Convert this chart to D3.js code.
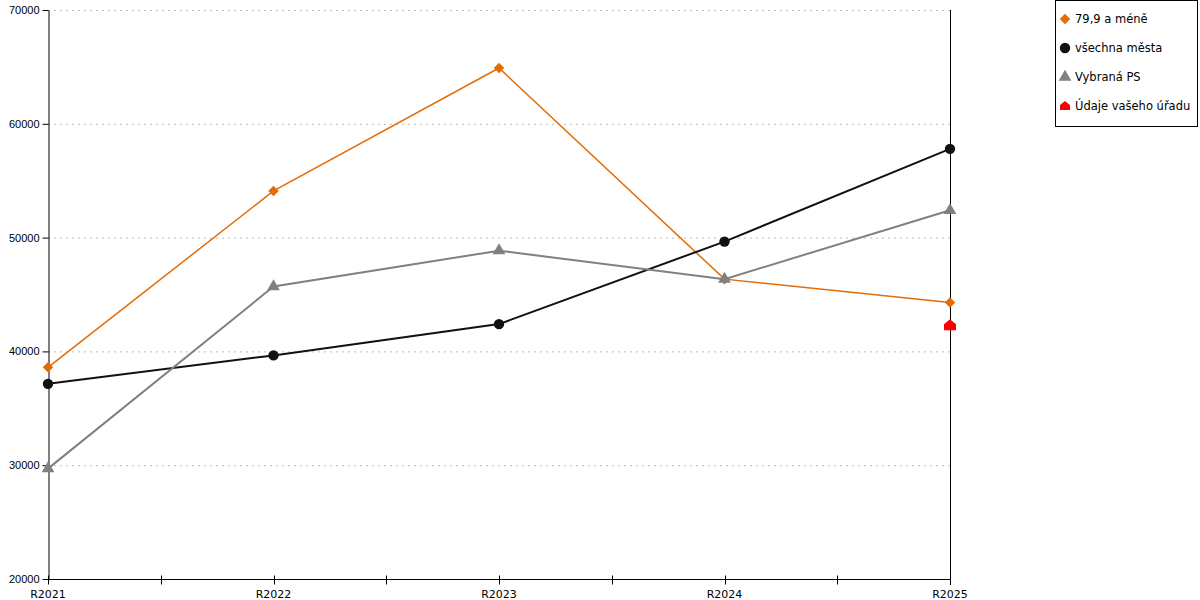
<!DOCTYPE html>
<html>
<head>
<meta charset="utf-8">
<script src="https://cdn.jsdelivr.net/npm/d3@7"></script>
<style>
  body { margin: 0; background: #fff; }
  svg { font-family: "DejaVu Sans", Verdana, sans-serif; }
</style>
</head>
<body>
<svg width="1200" height="600"></svg>
<script>
const categories = ["R2021", "R2022", "R2023", "R2024", "R2025"]
const yTicks = [20000, 30000, 40000, 50000, 60000, 70000]

const orangeValues = [38600, 54100, 64900, 46350, 44300]
const allCitiesValues = [37150, 39650, 42400, 49650, 57800]
const selectedValues = [29700, 45700, 48850, 46350, 52400]
const officeValues = [null, null, null, null, 42300]

const seriesNames = ["79,9 a méně", "všechna města", "Vybraná PS", "Údaje vašeho úřadu"]

function drawChart() {
    const svg = d3.select("svg")
    const left = 48, right = 950, top = 10, bottom = 579

    const x = d3.scalePoint().domain(categories).range([left, right])
    const y = d3.scaleLinear().domain([20000, 70000]).range([bottom, top])

    // gridlines
    svg.append("g")
        .selectAll("line")
        .data(yTicks.filter(t => t > 20000))
        .enter()
        .append("line")
        .attr("x1", left)
        .attr("x2", right)
        .attr("y1", d => y(d) + 0.5)
        .attr("y2", d => y(d) + 0.5)
        .attr("stroke", "#bbb")
        .attr("stroke-dasharray", "2,4")

    // y axis
    const yAxis = svg.append("g")
        .attr("transform", `translate(${left + 0.5},0)`)
        .call(d3.axisLeft(y).tickValues(yTicks).tickFormat(d3.format("d")).tickSize(6).tickSizeOuter(0))
    yAxis.select(".domain").attr("stroke", "#000")
    yAxis.selectAll("text").attr("font-size", "11px").attr("fill", "#000").attr("x", -9)

    // x axis
    const step = x.step()
    const mids = categories.slice(0, -1).map(c => x(c) + step / 2)
    const xg = svg.append("g").attr("transform", `translate(0,${bottom + 0.5})`)
    xg.append("line")
        .attr("x1", left)
        .attr("x2", right)
        .attr("stroke", "#000")
    xg.selectAll("line.tick")
        .data(categories.map(c => x(c)).concat(mids))
        .enter()
        .append("line")
        .attr("class", "tick")
        .attr("x1", d => Math.round(d) + 0.5)
        .attr("x2", d => Math.round(d) + 0.5)
        .attr("y1", -4)
        .attr("y2", 5)
        .attr("stroke", "#000")
    xg.selectAll("text")
        .data(categories)
        .enter()
        .append("text")
        .attr("x", d => x(d))
        .attr("y", 18)
        .attr("text-anchor", "middle")
        .attr("font-size", "11px")
        .text(d => d)

    // right vertical line
    svg.append("line")
        .attr("x1", right + 0.5)
        .attr("x2", right + 0.5)
        .attr("y1", top)
        .attr("y2", bottom + 6)
        .attr("stroke", "#000")

    const line = d3.line()
        .defined(d => d.v != null)
        .x(d => x(d.c))
        .y(d => y(d.v))

    const series = [
        { values: orangeValues, color: "#e36c09", width: 1.5, symbol: d3.symbolSquare, size: 55, rotate: 45 },
        { values: allCitiesValues, color: "#111", width: 2, symbol: d3.symbolCircle, size: 85, rotate: 0 },
        { values: selectedValues, color: "#808080", width: 2, symbol: d3.symbolTriangle, size: 70, rotate: 0 },
        { values: officeValues, color: "#ff0000", width: 2, symbol: "house", size: 0, rotate: 0 }
    ]

    function house() {
        return "M0,-6 L6,-1 L6,5 L-6,5 L-6,-1 Z"
    }

    series.forEach(s => {
        const pts = categories.map((c, i) => ({ c: c, v: s.values[i] }))
        svg.append("path")
            .attr("d", line(pts))
            .attr("fill", "none")
            .attr("stroke", s.color)
            .attr("stroke-width", s.width)
        svg.append("g")
            .selectAll("path")
            .data(pts.filter(p => p.v != null))
            .enter()
            .append("path")
            .attr("transform", p => `translate(${x(p.c)},${y(p.v)}) rotate(${s.rotate})`)
            .attr("d", s.symbol === "house" ? house() : d3.symbol().type(s.symbol).size(s.size)())
            .attr("fill", s.color)
    })

    // legend
    const legend = svg.append("g")
    legend.append("rect")
        .attr("x", 1055.5)
        .attr("y", 0.5)
        .attr("width", 142)
        .attr("height", 126)
        .attr("fill", "#fff")
        .attr("stroke", "#000")
    const items = legend.selectAll("g.item")
        .data(series)
        .enter()
        .append("g")
        .attr("transform", (d, i) => `translate(1065,${19 + i * 29})`)
    items.append("path")
        .attr("d", s => s.symbol === "house" ? "M0,-5 L5,-1 L5,4 L-5,4 L-5,-1 Z" : d3.symbol().type(s.symbol).size(s.size)())
        .attr("transform", s => `rotate(${s.rotate})`)
        .attr("fill", s => s.color)
    items.append("text")
        .attr("x", 10)
        .attr("y", 4)
        .attr("font-size", "11.5px")
        .text((d, i) => seriesNames[i])
}
drawChart()
</script>
</body>
</html>
